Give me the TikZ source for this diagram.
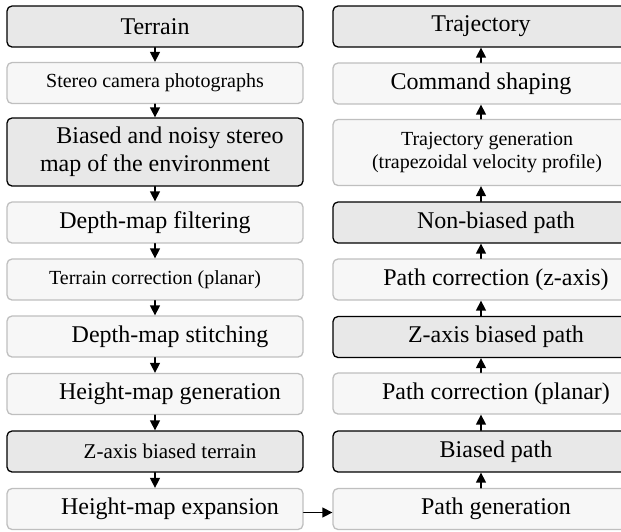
\documentclass[tikz,border=0pt]{standalone}
\usepackage{fontspec}
\setmainfont{Liberation Serif}
\usetikzlibrary{arrows.meta}
\newcommand{\indt}{\hspace*{30pt}}

\begin{document}
\begin{tikzpicture}[x=1pt, y=-1pt, line cap=round, line join=round]
  \tikzset{stage/.style={draw=black!25, fill=black!3, line width=1.3pt, rounded corners=5pt, minimum width=296pt, minimum height=41pt, inner sep=0pt, align=center, font=\fontsize{24}{28}\selectfont},
    data/.style={stage, draw=black, fill=black!9},
    smalltext/.style={font=\fontsize{20}{23.5}\selectfont},
    flow/.style={draw=black, line width=1.4pt, -{Triangle[length=10pt,width=10pt]}}}
  \useasboundingbox (0,0) rectangle (621,531);

  % Left column: from the terrain down to the expanded height map.
  \node[data] (terrain) at (155,26.5) {Terrain};
  \node[stage, smalltext] (photos) at (155,83) {Stereo camera photographs};
  \node[data, minimum height=68pt] (stereo) at (155,152) {\indt Biased and noisy stereo\\map of the environment};
  \node[stage] (filter) at (155,222.5) {Depth-map filtering};
  \node[stage, smalltext] (tcorr) at (155,279.5) {Terrain correction (planar)};
  \node[stage] (stitch) at (155,336.5) {\indt Depth-map stitching};
  \node[stage] (hgen) at (155,394) {\indt Height-map generation};
  \node[data, font=\fontsize{21}{25}\selectfont] (zterrain) at (155,451.5) {\indt Z-axis biased terrain};
  \node[stage] (hexp) at (155,509) {\indt Height-map expansion};

  % Right column: from the generated path up to the trajectory.
  \node[data] (traj) at (481,26.5) {Trajectory};
  \node[stage] (shaping) at (481,83.5) {Command shaping};
  \node[stage, smalltext, minimum height=66pt] (tgen) at (481,152.5) {\hspace*{12pt}Trajectory generation\\\hspace*{12pt}(trapezoidal velocity profile)};
  \node[data] (nbpath) at (481,222.5) {\indt Non-biased path};
  \node[stage] (zcorr) at (481,279.5) {\indt Path correction (z-axis)};
  \node[data] (zpath) at (481,337) {\indt Z-axis biased path};
  \node[stage] (pcorr) at (481,393.5) {\indt Path correction (planar)};
  \node[data] (bpath) at (481,451.5) {\indt Biased path};
  \node[stage] (pgen) at (481,509) {\indt Path generation};

  % Connectors: down the left, across, then up the right.
  \foreach \a/\b in {terrain/photos, photos/stereo, stereo/filter, filter/tcorr, tcorr/stitch, stitch/hgen, hgen/zterrain, zterrain/hexp} {
    \draw[flow] (\a) -- (\b);
  }
  \draw[flow] ([yshift=-3.5pt]hexp.east) -- ([yshift=-3.5pt]pgen.west);
  \foreach \a/\b in {pgen/bpath, bpath/pcorr, pcorr/zpath, zpath/zcorr, zcorr/nbpath, nbpath/tgen, tgen/shaping, shaping/traj} {
    \draw[flow] (\a) -- (\b);
  }
\end{tikzpicture}
\end{document}
